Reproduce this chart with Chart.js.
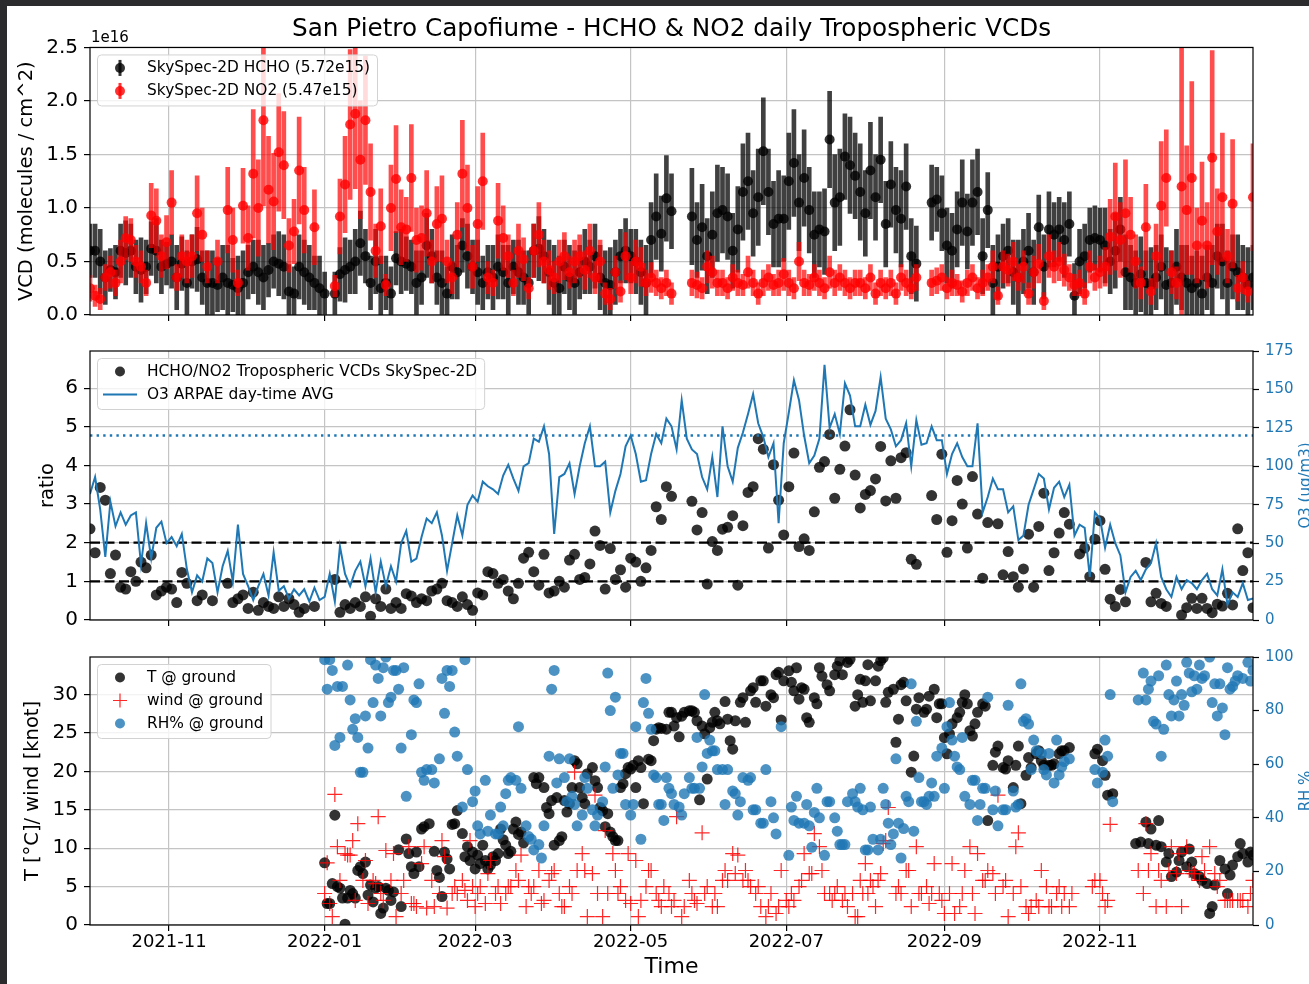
<!DOCTYPE html>
<html>
<head>
<meta charset="utf-8">
<title>San Pietro Capofiume - HCHO & NO2 daily Tropospheric VCDs</title>
<script src="https://cdn.jsdelivr.net/npm/chart.js@4.4.1/dist/chart.umd.min.js"></script>
<style>
  html, body { margin: 0; padding: 0; background: #2b2b2d; overflow: hidden; }
  #sheet { position: absolute; left: 7px; top: 6px; width: 1302px; height: 978px; background: #fff; }
  canvas { position: absolute; left: 0; }
</style>
</head>
<body>
<div id="sheet"></div>
<canvas id="vcdChart" width="1309" height="333" style="top:0"></canvas>
<canvas id="ratioChart" width="1309" height="310" style="top:330px"></canvas>
<canvas id="metChart" width="1309" height="345" style="top:639px"></canvas>
<script>
// ---- data ----
const startDate = '2021-10-01';
const endDate = '2022-12-31';
const stepDays = 2;          // VCD, ratio and O3: one sample every 2 days from startDate
const monthTicks = ['2021-11', '2022-01', '2022-03', '2022-05', '2022-07', '2022-09', '2022-11'];

// tropospheric VCDs, units of 1e16 molec/cm2
const hchoVcd = [0.6,0.6,0.5,0.35,0.42,0.4,0.6,0.58,0.6,0.45,
  0.42,0.45,0.62,0.6,0.45,0.48,0.5,0.35,0.48,0.3,
  0.5,0.52,0.35,0.3,0.3,0.28,0.35,0.3,0.28,0.25,
  0.3,0.4,0.45,0.4,0.35,0.42,0.5,0.48,0.45,0.22,
  0.2,0.45,0.4,0.35,0.3,0.25,0.2,null,0.2,0.38,
  0.42,0.45,0.5,0.67,0.55,0.3,0.5,0.25,0.3,0.2,
  0.53,0.5,0.48,0.45,0.3,0.35,0.65,0.55,0.35,0.3,
  0.2,0.45,0.4,0.65,0.55,0.45,0.4,0.3,0.4,0.35,
  0.45,0.4,0.3,0.45,0.4,0.35,0.3,0.6,0.62,0.55,
  0.4,0.3,0.25,0.45,0.35,0.3,0.4,0.5,0.45,0.55,
  0.35,0.3,0.28,0.4,0.55,0.6,0.55,0.5,0.4,0.3,
  0.7,0.92,0.76,1.09,0.97,null,null,null,0.92,0.7,
  0.82,0.55,0.75,0.95,0.98,0.92,0.6,0.8,1.15,1.25,
  0.95,1.1,1.53,1.15,0.85,0.9,0.9,1.25,1.42,1.05,
  1.28,0.98,0.75,0.8,0.78,1.64,1.05,1.1,1.48,1.4,
  1.3,1.15,0.95,1.35,1.1,1.45,0.85,1.22,0.98,0.9,
  1.2,0.55,0.48,null,null,1.05,1.08,0.95,0.65,0.6,
  0.8,1.05,0.78,1.05,1.15,0.55,0.98,0.3,0.45,0.55,
  0.6,0.4,0.35,0.5,0.6,0.4,0.82,0.45,0.8,0.75,
  0.8,0.7,0.85,0.18,0.5,0.55,0.7,0.72,0.7,0.65,
  0.5,0.6,0.8,0.4,0.35,0.3,0.38,0.3,0.28,0.35,
  0.45,0.28,0.3,0.45,0.35,0.3,0.25,0.3,0.2,0.35,
  0.3,0.55,0.5,0.3,0.45,0.4,0.35,0.28,0.35];
const hchoErr = [.25,.25,.3,.25,.2,.25,.25,.3,.25,.25,
  .3,.25,.25,.3,.25,.2,.25,.3,.25,.3,
  .25,.3,.25,.3,.3,.25,.3,.35,.25,.3,
  .3,.25,.25,.3,.3,.25,.25,.3,.3,.25,
  .25,.3,.3,.3,.25,.3,.2,null,.2,.25,
  .3,.25,.3,.3,.25,.25,.3,.3,.25,.25,
  .25,.3,.25,.25,.3,.25,.3,.25,.25,.3,
  .25,.3,.25,.25,.3,.25,.3,.25,.25,.3,
  .3,.25,.35,.25,.3,.25,.3,.25,.3,.25,
  .3,.35,.3,.25,.3,.3,.25,.3,.25,.3,
  .3,.3,.35,.3,.25,.3,.25,.3,.3,.35,
  .35,.4,.35,.4,.35,null,null,null,.45,.35,
  .4,.35,.4,.45,.4,.4,.35,.4,.45,.45,
  .4,.45,.5,.4,.4,.45,.4,.45,.5,.45,
  .45,.4,.4,.35,.4,.45,.45,.45,.4,.45,
  .4,.45,.4,.45,.4,.4,.4,.4,.4,.45,
  .4,.35,.35,null,null,.35,.3,.35,.35,.35,
  .35,.4,.35,.4,.4,.35,.35,.35,.3,.3,
  .3,.3,.35,.3,.35,.3,.3,.3,.35,.3,
  .3,.35,.3,.3,.3,.3,.3,.3,.3,.35,
  .3,.35,.3,.35,.3,.3,.35,.3,.35,.3,
  .3,.35,.3,.35,.3,.35,.3,.3,.35,.3,
  .35,.3,.35,.3,.3,.35,.3,.35,.3];
const no2Vcd = [0.25,0.18,0.15,0.35,0.4,0.3,0.5,0.72,0.7,0.5,
  0.45,0.3,0.93,0.88,0.55,0.68,1.05,0.35,0.55,0.5,
  0.55,0.95,0.75,0.45,null,0.5,null,0.98,0.7,0.3,
  1.02,0.72,1.32,1.0,1.82,1.17,1.06,1.52,1.4,0.65,
  0.78,1.35,0.98,null,0.82,null,null,null,0.27,0.92,
  1.22,1.78,1.88,1.45,1.82,1.15,0.6,0.83,0.28,1.0,
  1.27,0.82,0.8,1.28,0.7,0.72,0.95,0.5,0.85,0.9,
  0.5,0.35,0.75,1.32,1.0,0.45,0.85,1.25,0.35,0.3,
  0.88,0.72,0.55,0.3,0.6,0.52,0.25,0.6,0.75,0.5,
  0.42,0.35,0.5,0.55,0.4,0.5,0.55,0.42,0.6,0.35,
  0.5,0.2,0.15,0.4,0.22,0.55,0.35,0.5,0.45,0.3,
  0.35,0.3,0.25,0.3,0.2,null,null,null,0.3,0.28,
  0.25,0.45,0.4,0.3,0.3,0.25,0.35,0.3,0.28,0.4,
  0.3,0.2,0.3,0.35,0.28,0.3,0.38,0.3,0.25,0.5,
  0.3,0.28,0.35,0.3,0.25,0.4,0.3,0.35,0.3,0.25,
  0.3,0.3,0.25,0.35,0.2,0.3,0.25,0.3,0.2,0.35,
  0.3,0.25,0.35,null,null,0.3,0.32,0.35,0.25,0.3,
  0.28,0.22,0.3,0.35,0.25,0.3,0.35,0.45,0.18,0.45,
  0.42,0.5,0.35,0.45,0.2,0.4,0.48,0.13,0.55,0.45,
  0.5,0.42,0.35,0.28,0.3,0.2,0.45,0.35,0.4,0.45,
  0.73,0.92,0.7,0.95,0.75,0.5,0.3,0.82,0.22,0.55,
  1.02,1.28,0.4,0.3,1.2,0.98,1.28,0.65,0.88,0.65,
  1.47,0.78,1.1,0.55,1.04,0.25,0.35,0.22,1.1];
const no2Err = [.12,.1,.1,.12,.15,.12,.2,.2,.2,.15,
  .15,.12,.3,.3,.2,.25,.3,.12,.2,.2,
  .2,.35,.25,.15,null,.2,null,.4,.3,.12,
  .35,.3,.6,.45,.8,.5,.45,.55,.5,.25,
  .3,.5,.4,null,.35,null,null,null,.1,.35,
  .45,.7,.7,.55,.6,.45,.25,.35,.1,.4,
  .5,.35,.3,.5,.3,.3,.4,.2,.35,.4,
  .2,.15,.3,.5,.4,.2,.35,.45,.15,.12,
  .35,.3,.2,.12,.25,.2,.1,.25,.3,.2,
  .18,.15,.2,.22,.15,.2,.2,.18,.25,.15,
  .2,.1,.1,.15,.1,.22,.15,.2,.18,.12,
  .14,.12,.1,.12,.1,null,null,null,.12,.12,
  .1,.15,.15,.12,.12,.1,.12,.12,.1,.15,
  .12,.1,.12,.12,.1,.12,.15,.12,.1,.18,
  .12,.1,.12,.12,.1,.15,.12,.12,.12,.1,
  .12,.12,.1,.12,.1,.12,.1,.12,.1,.12,
  .12,.1,.12,null,null,.12,.12,.12,.1,.12,
  .1,.1,.12,.12,.1,.12,.12,.15,.08,.15,
  .15,.18,.12,.15,.1,.15,.18,.08,.2,.15,
  .18,.15,.12,.1,.12,.1,.15,.12,.15,.18,
  .35,.5,.35,.5,.35,.25,.15,.4,.12,.3,
  .6,.45,.2,.15,1.4,.6,.9,.35,.55,.4,
  1.0,.4,.6,.25,.6,.12,.15,.1,.5];

// HCHO/NO2 ratio and O3 day-time average (ug/m3)
const ratio = [2.36,1.74,3.43,3.1,1.2,1.68,0.85,0.8,1.25,1.0,
  1.5,1.35,1.68,0.65,0.75,0.85,0.8,0.45,1.23,0.95,
  null,0.5,0.65,null,0.5,null,null,0.95,0.45,0.55,
  0.65,0.3,0.72,0.25,0.45,0.35,0.3,0.6,0.35,0.55,
  0.4,0.2,0.3,null,0.35,null,null,null,1.05,0.2,
  0.4,0.3,0.45,0.35,0.6,0.1,0.55,0.35,0.8,0.3,
  0.45,0.3,0.68,0.62,0.45,0.55,0.5,0.75,0.8,0.95,
  0.5,0.45,0.35,0.6,0.4,0.25,0.7,0.65,1.25,1.2,
  0.95,1.05,0.75,0.55,0.95,1.6,1.75,1.25,0.9,1.7,
  0.7,0.75,1.0,0.85,1.55,1.7,1.05,1.1,1.45,2.3,
  1.93,0.8,1.85,1.05,1.3,0.85,1.6,1.5,1.0,1.35,
  1.8,2.93,2.6,3.45,3.2,null,null,null,3.07,2.33,
  2.78,0.93,2.03,1.8,2.35,2.4,2.7,0.9,2.44,3.3,
  3.45,4.69,4.42,1.86,4.02,3.1,2.2,3.45,4.32,1.9,
  2.1,1.8,2.8,3.95,4.1,4.8,3.15,3.9,4.5,5.44,
  3.75,2.9,3.25,3.35,3.65,4.49,3.08,4.12,3.15,4.2,
  4.33,1.57,1.44,null,null,3.22,2.6,4.29,1.75,2.57,
  3.61,3.0,1.86,3.71,2.74,1.08,2.52,null,2.49,1.17,
  1.77,1.12,0.85,1.32,2.22,0.85,2.42,3.28,1.28,1.74,
  2.25,2.78,2.48,null,1.71,1.86,1.12,2.09,2.57,1.31,
  0.54,0.35,0.79,0.47,null,null,null,1.49,0.47,0.69,
  0.43,0.35,null,null,0.13,0.32,0.56,0.3,0.56,0.3,
  0.19,0.41,0.36,0.69,0.39,2.36,1.28,1.74,0.32];
const o3 = [82,93,72,41,77,61,70,62,68,70,
  36,63,40,60,64,50,54,48,56,33,
  18,29,25,40,37,18,35,45,25,62,
  30,22,13,22,30,16,44,19,22,14,
  20,16,20,12,21,13,15,30,12,48,
  30,22,32,38,22,40,18,38,22,35,
  25,50,58,38,40,54,66,63,70,55,
  32,50,68,55,75,81,77,90,87,85,
  82,94,101,92,84,100,102,118,116,126,
  108,56,93,95,102,82,100,115,126,100,
  100,103,70,84,95,113,120,108,90,91,
  108,121,115,131,126,111,143,118,111,108,
  93,85,106,80,126,100,90,112,122,134,
  147,128,119,106,115,63,115,135,156,143,
  120,102,107,118,166,125,134,121,154,146,
  126,126,140,127,136,158,131,124,113,117,
  128,100,130,114,115,126,117,117,95,108,
  115,106,100,100,128,70,80,92,85,85,
  70,74,52,55,75,85,95,92,72,86,
  90,80,88,55,62,60,28,70,66,47,
  62,50,42,18,28,32,26,33,37,50,
  28,20,15,28,20,26,24,20,26,30,
  20,16,33,10,18,15,24,13,14];
const ratioRefs = [1, 2];
const o3Limit = 120;

// ground meteo, daily from metStart
const metStart = '2022-01-01';
const metStepDays = 1;
const tGround = [8.1,2.8,2.8,5.4,14.3,5.0,4.8,3.5,0.1,3.5,
  4.5,4.1,3.5,7.1,7.6,6.7,8.2,3.9,5.2,3.0,
  4.8,5.0,1.5,2.2,4.8,4.5,3.2,4.3,null,9.8,
  2.4,null,11.2,9.3,7.6,6.7,9.5,7.6,12.5,12.8,
  null,13.2,null,9.6,7.1,6.2,3.7,9.5,8.6,7.3,
  13.1,13.2,14.9,null,11.9,8.9,10.2,8.4,9.5,7.3,
  9.1,8.0,10.4,8.4,7.3,7.8,8.9,8.4,9.3,12.5,
  11.1,10.4,9.3,9.6,12.5,13.4,11.8,12.1,10.7,null,
  null,null,19.2,18.4,19.2,null,17.9,15.3,14.5,16.2,
  10.4,16.6,11.0,11.5,16.2,14.7,15.8,17.9,21.4,21.0,
  17.9,16.6,15.8,19.7,null,20.5,18.8,17.9,15.3,14.9,
  12.8,14.5,12.1,11.5,11.0,11.0,17.9,18.4,19.7,20.5,
  20.3,20.8,17.9,21.4,20.5,15.8,null,21.6,21.4,24.0,
  25.5,25.7,25.6,null,25.5,27.7,27.7,25.9,27.0,24.5,
  27.2,27.7,null,27.9,27.9,27.7,26.6,16.3,25.9,24.9,
  19.0,25.7,26.4,27.7,26.6,26.2,null,29.1,26.8,24.0,
  22.9,26.6,null,29.0,29.6,26.4,null,30.5,30.9,29.0,
  null,31.8,31.8,28.5,null,30.0,29.6,32.6,32.9,26.7,
  31.8,null,33.1,31.6,30.5,33.5,29.4,30.9,30.7,27.0,
  26.4,null,29.6,28.8,33.5,32.4,null,31.3,30.5,null,
  32.6,33.7,34.4,32.6,null,34.2,34.6,null,28.5,30.0,
  32.0,29.0,31.8,33.9,29.2,null,31.8,33.7,34.4,34.8,
  29.0,30.3,null,30.7,23.8,26.8,31.3,31.6,29.2,null,
  19.9,22.0,28.1,29.6,null,27.7,28.1,29.8,null,30.7,
  27.0,28.8,28.8,24.4,22.3,24.9,26.2,null,27.0,27.7,
  29.0,30.0,28.8,25.3,24.6,26.2,27.7,null,28.8,28.5,
  13.6,null,20.8,22.5,23.3,null,20.5,20.3,21.4,null,
  17.9,20.8,23.3,15.8,null,19.5,21.8,20.5,null,22.3,
  22.7,21.4,20.8,null,20.8,20.8,21.0,null,22.3,22.7,
  22.7,null,23.1,null,null,null,null,null,null,null,
  null,null,22.3,22.9,null,21.4,19.5,16.9,null,17.1,
  null,null,null,null,null,null,null,null,10.6,null,
  10.8,null,13.4,10.6,12.5,null,10.4,13.6,10.2,null,
  8.2,9.3,6.3,null,6.9,8.4,9.5,null,7.6,9.9,
  8.2,6.7,null,6.3,5.8,null,5.4,1.5,2.4,5.2,
  null,8.4,null,7.3,4.1,6.5,7.8,null,8.9,10.6,
  9.3,null,8.2,9.5,9.1];
const windGround = [4.1,8.1,2.8,1.1,17,10.2,5.8,null,9.3,9.1,
  9.1,11.0,3.2,13.2,null,5.8,8.4,2.8,null,5.8,
  5.4,14.1,4.1,3.2,9.7,null,5.8,9.3,1.1,null,
  4.1,5.8,null,10.2,2.8,2.8,2.4,null,8.0,10.2,
  2.2,null,5.8,2.4,null,4.1,11.0,8.9,2.2,null,
  4.1,5.0,4.1,null,5.8,4.5,3.2,11,5.0,2.4,
  4.1,5.0,null,2.8,6.7,8.4,null,4.1,5.0,2.8,
  null,4.1,5.0,5.0,null,7.1,5.8,9.1,null,2.4,
  5.0,4.1,5.0,null,7.1,2.8,3.2,null,5.8,6.7,
  7.1,null,4.1,2.4,2.4,null,5.0,4.1,19.9,7.1,
  null,9.3,7.1,1.1,null,6.7,16.9,4.1,null,1.1,
  12.3,4.1,null,9.3,7.1,4.1,5.0,null,3.2,9.3,
  2.8,null,8.4,1.1,3.2,null,5.0,7.1,7.1,null,
  4.1,3.2,2.4,5.0,null,4.1,2.4,3.2,14.1,null,
  1.1,2.4,null,5.8,4.1,3.2,2.8,null,12.0,4.1,
  5.0,null,2.4,4.1,2.4,null,5.8,7.1,5.8,null,
  9.3,6.7,9.1,null,5.8,7.1,5.8,5.0,null,4.1,
  5.0,2.4,null,1.1,2.4,4.1,null,1.5,2.4,7.1,
  null,3.2,2.4,4.1,3.2,null,5.0,5.8,9.3,null,
  6.7,6.7,11.9,null,10.2,7.1,4.1,null,4.1,3.2,
  4.1,5.0,null,3.2,4.1,2.4,null,4.1,1.1,1.1,
  5.8,4.1,8.0,4.1,5.8,5.0,2.4,5.8,6.7,10.6,
  11,15.3,null,null,4.1,5.0,4.1,null,7.1,7.1,
  2.4,null,10.2,4.1,4.1,null,5.0,2.8,4.1,8.0,
  null,4.1,3.2,1.5,null,4.1,8.0,1.5,null,2.4,
  4.1,7.1,null,10.2,4.1,1.5,9.3,null,5.8,5.8,
  7.1,null,6.7,4.1,16.9,null,5.0,5.8,1.1,null,
  4.1,10.2,12.0,5.0,null,2.4,1.5,2.4,null,3.2,
  2.4,7.1,null,5.0,2.4,2.4,null,4.1,5.0,2.4,
  4.1,null,2.4,4.1,null,null,null,null,null,null,
  null,5.0,5.8,null,5.8,4.1,2.4,3.2,13.1,null,
  null,null,null,null,null,null,null,null,null,7.1,
  null,4.1,13.2,7.1,9.3,null,2.4,7.1,5.8,null,
  2.4,7.1,10.2,null,6.7,9.3,2.4,null,10.2,7.1,
  6.7,6.7,null,5.8,8.9,7.1,null,10.2,null,6.7,
  5.0,5.8,null,3.2,3.2,3.2,3.2,null,3.2,3.2,
  3.2,null,2.4,4.1,5.8];
const rhGround = [99,88,99,95,67,89,70,89,null,97,
  84,73,77,70,57,57,78,66,99,83,
  97,92,78,96,100,83,85,95,95,88,
  66,96,48,null,71,84,83,90,57,54,
  58,null,58,53,null,62,92,79,95,89,
  95,72,63,null,44,99,58,null,46,50,
  37,34,null,54,35,41,null,34,34,44,
  37,49,54,55,null,54,74,51,null,37,
  33,32,28,null,30,25,37,null,63,88,
  95,53,62,null,55,46,62,48,45,37,
  null,41,55,51,null,43,37,41,null,46,
  59,94,80,51,85,56,64,64,45,null,
  41,45,74,null,32,83,92,79,73,56,
  55,45,45,39,55,51,49,45,null,44,
  41,49,null,55,51,51,70,51,59,86,
  64,69,65,65,58,null,58,45,58,null,
  50,49,41,46,55,null,54,55,43,43,
  null,38,38,58,null,46,40,34,null,74,
  null,null,26,44,39,48,38,null,38,45,
  37,29,42,51,40,null,26,46,46,null,
  40,35,30,30,30,46,null,49,46,44,
  51,43,28,28,44,32,null,28,32,51,
  45,38,30,34,62,38,25,36,48,46,
  90,35,76,55,46,46,45,48,53,48,
  63,null,66,51,74,83,69,63,59,58,
  70,48,null,45,54,54,39,45,51,51,
  85,null,43,50,37,null,43,43,82,null,
  50,44,45,90,76,77,75,58,69,65,
  null,64,58,56,64,null,53,69,56,59,
  61,null,62,null,null,null,null,null,null,null,
  null,null,58,53,null,57,69,63,86,46,
  null,null,null,null,null,null,null,null,null,84,
  null,94,84,88,91,76,75,93,63,73,
  97,86,78,84,91,78,86,82,98,94,
  87,93,88,97,92,93,null,100,83,90,
  78,90,81,71,96,88,89,91,93,null,
  92,null,98,91,95];

// ---- helpers ----
const FONT = "'DejaVu Sans', 'Liberation Sans', sans-serif";
const BLUE = '#1f77b4';
const GRID = '#c4c4c4';
Chart.defaults.font.family = FONT;
Chart.defaults.color = '#000';

function dayOf(d) { return (Date.parse(d) - Date.parse(startDate)) / 864e5; }
const xMin = dayOf(startDate), xMax = dayOf(endDate);
const tickDays = monthTicks.map(m => dayOf(m + '-01'));

function points(vals, from, step) {
  const d0 = dayOf(from), out = [];
  vals.forEach((v, i) => { if (v !== null) out.push({x: d0 + i * step, y: v}); });
  return out;
}
function errBars(vals, errs, from, step) {
  const d0 = dayOf(from), out = [];
  vals.forEach((v, i) => { if (v !== null) out.push({x: d0 + i * step, y: [v - errs[i], v + errs[i]]}); });
  return out;
}
function hLine(y) { return [{x: xMin, y: y}, {x: xMax, y: y}]; }

const tickGrid = {color: GRID, lineWidth: 1.2, tickColor: '#000', tickLength: 6, tickWidth: 1.2};

function xAxis(labels, height) {
  return {
    type: 'linear', min: xMin, max: xMax, offset: false,
    afterBuildTicks: s => { s.ticks = tickDays.map(v => ({value: v})); },
    afterFit: s => { s.height = height; },
    grid: Object.assign({offset: false}, tickGrid),
    border: {display: false},
    ticks: {display: labels, padding: 1, maxRotation: 0, autoSkip: false, font: {size: 18},
      callback: (v, i) => monthTicks[i]},
    title: {display: labels, text: 'Time', font: {size: 22}, padding: {top: 0, bottom: 3.8}}
  };
}
function leftAxis(min, max, step, title, titlePad, fmt) {
  return {
    position: 'left', min: min, max: max,
    afterFit: s => { s.width = 90; },
    grid: tickGrid, border: {display: false},
    ticks: {stepSize: step, includeBounds: false, padding: 6, font: {size: 20}, callback: fmt},
    title: {display: true, text: title, font: {size: 19.5}, padding: {top: titlePad, bottom: 0}}
  };
}
function rightAxis(max, step) {
  return {
    position: 'right', min: 0, max: max,
    afterFit: s => { s.width = 56; },
    grid: {drawOnChartArea: false, tickColor: '#000', tickLength: 6, tickWidth: 1.2},
    border: {display: false},
    ticks: {stepSize: step, padding: 6, font: {size: 15}, color: BLUE}
  };
}

// frame (matplotlib spines)
const frame = {
  id: 'frame',
  afterDatasetsDraw(chart) {
    const {ctx, chartArea: a} = chart;
    ctx.save();
    ctx.strokeStyle = '#000'; ctx.lineWidth = 1.2;
    ctx.strokeRect(a.left, a.top, a.right - a.left, a.bottom - a.top);
    ctx.restore();
  }
};

function drawMark(ctx, d, cx, cy) {
  ctx.fillStyle = d.backgroundColor; ctx.strokeStyle = d.borderColor;
  if (d.legendMark === 'errbar' || d.legendMark === 'dot') {
    if (d.legendMark === 'errbar') ctx.fillRect(cx - 1.5, cy - 8, 3, 16);
    ctx.beginPath(); ctx.arc(cx, cy, 5, 0, 2 * Math.PI); ctx.fill();
  } else if (d.legendMark === 'line') {
    ctx.lineWidth = 2;
    ctx.beginPath(); ctx.moveTo(cx - 17, cy); ctx.lineTo(cx + 17, cy); ctx.stroke();
  } else {
    ctx.lineWidth = 1.2;
    ctx.beginPath();
    ctx.moveTo(cx - 7, cy); ctx.lineTo(cx + 7, cy);
    ctx.moveTo(cx, cy - 7); ctx.lineTo(cx, cy + 7);
    ctx.stroke();
  }
}

// legend box in the upper left corner, plus "1e16" and right-hand axis labels
const notes = {
  id: 'notes',
  afterDraw(chart, args, o) {
    const {ctx, chartArea: a} = chart;
    const items = chart.data.datasets.filter(d => d.legendMark);
    ctx.save();
    ctx.font = '15.4px ' + FONT;
    if (items.length) {
      const tw = Math.max(...items.map(d => ctx.measureText(d.label).width));
      const x = a.left + 7, y = a.top + 7, w = tw + 57, h = items.length * 23 + 5;
      ctx.beginPath(); ctx.roundRect(x + 0.5, y + 0.5, w, h, 4);
      ctx.fillStyle = 'rgba(255,255,255,0.8)'; ctx.fill();
      ctx.strokeStyle = '#d2d2d2'; ctx.lineWidth = 1; ctx.stroke();
      items.forEach((d, i) => {
        const cy = y + 13.5 + i * 23;
        drawMark(ctx, d, x + 23, cy);
        ctx.fillStyle = '#000'; ctx.textAlign = 'left'; ctx.textBaseline = 'middle';
        ctx.fillText(d.label, x + 50, cy);
      });
    }
    ctx.font = '15px ' + FONT;
    if (o.offsetText) {
      ctx.fillStyle = '#000'; ctx.textAlign = 'left'; ctx.textBaseline = 'alphabetic';
      ctx.fillText(o.offsetText, a.left + 1, a.top - 5);
    }
    if (o.sideLabel) {
      ctx.fillStyle = BLUE;
      ctx.translate(a.right + 53, (a.top + a.bottom) / 2);
      ctx.rotate(-Math.PI / 2);
      ctx.textAlign = 'center'; ctx.textBaseline = 'middle';
      ctx.fillText(o.sideLabel, 0, 0);
    }
    ctx.restore();
  }
};

const common = {responsive: false, animation: false, events: [], devicePixelRatio: 1};

// ---- top: HCHO & NO2 VCDs ----
new Chart(document.getElementById('vcdChart'), {
  type: 'scatter',
  data: {datasets: [
    {type: 'bar', label: 'HCHO err', data: errBars(hchoVcd, hchoErr, startDate, stepDays), backgroundColor: 'rgba(0,0,0,0.75)',
      barThickness: 4, grouped: false, borderWidth: 0, clip: 0, order: 4},
    {label: 'SkySpec-2D HCHO (5.72e15)', legendMark: 'errbar', data: points(hchoVcd, startDate, stepDays),
      backgroundColor: 'rgba(0,0,0,0.8)', borderWidth: 0, pointRadius: 5, clip: 0, order: 3},
    {type: 'bar', label: 'NO2 err', data: errBars(no2Vcd, no2Err, startDate, stepDays), backgroundColor: 'rgba(255,0,0,0.7)',
      barThickness: 4, grouped: false, borderWidth: 0, clip: 0, order: 2},
    {label: 'SkySpec-2D NO2 (5.47e15)', legendMark: 'errbar', data: points(no2Vcd, startDate, stepDays),
      backgroundColor: 'rgba(255,0,0,0.8)', borderWidth: 0, pointRadius: 5, clip: 0, order: 1}
  ]},
  options: Object.assign({}, common, {
    layout: {padding: {left: 0, right: 56, top: 0, bottom: 0}},
    scales: {
      x: xAxis(false, 18),
      y: leftAxis(0, 2.5, 0.5, 'VCD (molecules / cm^2)', 15, v => v.toFixed(1))
    },
    plugins: {
      legend: {display: false}, tooltip: {enabled: false},
      title: {display: true, fullSize: false, text: 'San Pietro Capofiume - HCHO & NO2 daily Tropospheric VCDs',
        font: {size: 24.7, weight: 'normal'}, color: '#000', padding: {top: 14.4, bottom: 3.4}},
      notes: {offsetText: '1e16'}
    }
  }),
  plugins: [frame, notes]
});

// ---- middle: ratio and O3 ----
new Chart(document.getElementById('ratioChart'), {
  type: 'scatter',
  data: {datasets: [
    {label: 'HCHO/NO2 Tropospheric VCDs SkySpec-2D', legendMark: 'dot', data: points(ratio, startDate, stepDays),
      backgroundColor: 'rgba(0,0,0,0.8)', borderWidth: 0, pointRadius: 5.5, clip: 0, yAxisID: 'y', order: 2},
    {type: 'line', label: 'O3 ARPAE day-time AVG', legendMark: 'line', data: points(o3, startDate, stepDays),
      borderColor: BLUE, backgroundColor: BLUE, borderWidth: 2, pointRadius: 0, tension: 0, clip: 0, yAxisID: 'y2', order: 0},
    ...ratioRefs.map(r => ({type: 'line', label: 'ratio ' + r, data: hLine(r), borderColor: '#000', borderWidth: 2.2,
      borderDash: [10, 4.5], pointRadius: 0, yAxisID: 'y', order: 3})),
    {type: 'line', label: 'O3 limit', data: hLine(o3Limit), borderColor: BLUE, borderWidth: 2.4,
      borderDash: [2.4, 4.2], pointRadius: 0, yAxisID: 'y2', order: 1}
  ]},
  options: Object.assign({}, common, {
    layout: {padding: {left: 0, right: 0, top: 21, bottom: 0}},
    scales: {
      x: xAxis(false, 20),
      y: leftAxis(0, 6.96, 1, 'ratio', 36, v => String(v)),
      y2: rightAxis(175, 25)
    },
    plugins: {legend: {display: false}, tooltip: {enabled: false}, notes: {sideLabel: 'O3 (ug/m3)'}}
  }),
  plugins: [frame, notes]
});

// ---- bottom: ground meteo ----
new Chart(document.getElementById('metChart'), {
  type: 'scatter',
  data: {datasets: [
    {label: 'T @ ground', legendMark: 'dot', data: points(tGround, metStart, metStepDays),
      backgroundColor: 'rgba(0,0,0,0.8)', borderWidth: 0, pointRadius: 5.5, clip: 0, yAxisID: 'y', order: 2},
    {label: 'wind @ ground', legendMark: 'cross', data: points(windGround, metStart, metStepDays), pointStyle: 'cross',
      borderColor: 'rgba(255,0,0,0.85)', backgroundColor: 'rgba(255,0,0,0.85)', borderWidth: 1.2, pointRadius: 7.5,
      clip: 0, yAxisID: 'y', order: 1},
    {label: 'RH% @ ground', legendMark: 'dot', data: points(rhGround, metStart, metStepDays),
      backgroundColor: 'rgba(31,119,180,0.8)', borderWidth: 0, pointRadius: 5.5, clip: 0, yAxisID: 'y2', order: 0}
  ]},
  options: Object.assign({}, common, {
    layout: {padding: {left: 0, right: 0, top: 18, bottom: 0}},
    scales: {
      x: xAxis(true, 59),
      y: leftAxis(0, 34.9, 5, 'T [\u00b0C]/ wind [knot]', 21, v => String(v)),
      y2: rightAxis(100, 20)
    },
    plugins: {legend: {display: false}, tooltip: {enabled: false}, notes: {sideLabel: 'RH %'}}
  }),
  plugins: [frame, notes]
});
</script>
</body>
</html>
